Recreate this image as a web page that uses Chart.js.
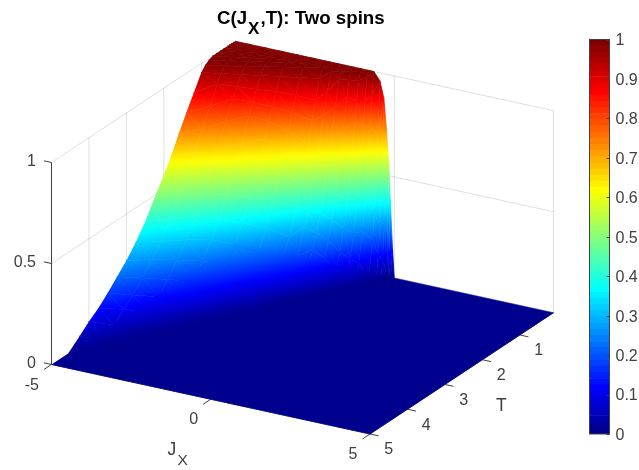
<!DOCTYPE html>
<html>
<head>
<meta charset="utf-8">
<title>C(Jx,T): Two spins</title>
<script src="https://cdn.jsdelivr.net/npm/chart.js@4"></script>
<style>
  html, body { margin: 0; padding: 0; background: #fff; }
  #wrap { position: relative; width: 639px; height: 470px; overflow: hidden; }
  canvas { position: absolute; top: 0; }
  #surface { left: 0; }
  #colorbar { left: 580px; }
</style>
</head>
<body>
<div id="wrap">
  <canvas id="surface" width="639" height="470"></canvas>
  <canvas id="colorbar" width="59" height="470"></canvas>
</div>
<script>
// values
const jxValues = [-5, -4.5, -4, -3.5, -3, -2.5, -2, -1.75, -1.5, -1.25, -1, -0.8, -0.64, -0.45, -0.33, -0.25, -0.17, -0.125, -0.055, 0, 5];
const tValues = [0.1, 0.15, 0.2, 0.25, 0.3, 0.4, 0.5, 0.6, 0.7, 0.8, 0.9, 1, 1.2, 1.4, 1.6, 1.8, 2, 2.25, 2.5, 2.75, 3, 3.25, 3.5, 3.75, 4, 4.25, 4.55, 5];
// one row per T, one column per Jx
const cValues = [
  [1, 1, 1, 1, 1, 1, 1, 1, 1, 1, 1, 1, 1, 0.96, 0.88, 0.74, 0.55, 0.385, 0.14, 0, 0],
  [1, 1, 1, 1, 1, 1, 1, 1, 1, 1, 0.996, 0.973, 0.89, 0.696, 0.48, 0.27, 0.02, 0, 0, 0, 0],
  [1, 1, 1, 1, 1, 1, 1, 1, 1, 0.992, 0.955, 0.86, 0.742, 0.498, 0.264, 0.09, 0, 0, 0, 0, 0],
  [1, 1, 1, 1, 1, 1, 1, 0.998, 0.99, 0.955, 0.86, 0.742, 0.588, 0.32, 0.12, 0, 0, 0, 0, 0, 0],
  [1, 1, 1, 1, 1, 1, 0.996, 0.986, 0.955, 0.88, 0.77, 0.617, 0.45, 0.2, 0, 0, 0, 0, 0, 0, 0],
  [1, 1, 1, 1, 1, 0.992, 0.955, 0.9, 0.83, 0.727, 0.57, 0.4, 0.245, 0.015, 0, 0, 0, 0, 0, 0, 0],
  [1, 1, 1, 0.998, 0.99, 0.955, 0.86, 0.793, 0.696, 0.57, 0.4, 0.245, 0.103, 0, 0, 0, 0, 0, 0, 0, 0],
  [1, 1, 0.996, 0.986, 0.955, 0.88, 0.77, 0.677, 0.57, 0.432, 0.27, 0.125, 0, 0, 0, 0, 0, 0, 0, 0, 0],
  [1, 0.994, 0.983, 0.955, 0.893, 0.805, 0.663, 0.57, 0.455, 0.32, 0.17, 0.024, 0, 0, 0, 0, 0, 0, 0, 0, 0],
  [0.992, 0.981, 0.955, 0.9, 0.83, 0.727, 0.57, 0.475, 0.352, 0.227, 0.09, 0, 0, 0, 0, 0, 0, 0, 0, 0, 0],
  [0.979, 0.955, 0.908, 0.847, 0.77, 0.643, 0.487, 0.377, 0.27, 0.152, 0.006, 0, 0, 0, 0, 0, 0, 0, 0, 0, 0],
  [0.955, 0.915, 0.86, 0.793, 0.696, 0.57, 0.4, 0.303, 0.2, 0.09, 0, 0, 0, 0, 0, 0, 0, 0, 0, 0, 0],
  [0.88, 0.83, 0.77, 0.677, 0.57, 0.432, 0.27, 0.183, 0.09, 0, 0, 0, 0, 0, 0, 0, 0, 0, 0, 0, 0],
  [0.805, 0.744, 0.663, 0.57, 0.455, 0.32, 0.17, 0.09, 0, 0, 0, 0, 0, 0, 0, 0, 0, 0, 0, 0, 0],
  [0.727, 0.65, 0.57, 0.475, 0.352, 0.227, 0.09, 0, 0, 0, 0, 0, 0, 0, 0, 0, 0, 0, 0, 0, 0],
  [0.643, 0.57, 0.487, 0.377, 0.27, 0.152, 0.006, 0, 0, 0, 0, 0, 0, 0, 0, 0, 0, 0, 0, 0, 0],
  [0.57, 0.498, 0.4, 0.303, 0.2, 0.09, 0, 0, 0, 0, 0, 0, 0, 0, 0, 0, 0, 0, 0, 0, 0],
  [0.487, 0.4, 0.315, 0.227, 0.125, 0.006, 0, 0, 0, 0, 0, 0, 0, 0, 0, 0, 0, 0, 0, 0, 0],
  [0.4, 0.32, 0.245, 0.157, 0.06, 0, 0, 0, 0, 0, 0, 0, 0, 0, 0, 0, 0, 0, 0, 0, 0],
  [0.33, 0.26, 0.18, 0.1, 0, 0, 0, 0, 0, 0, 0, 0, 0, 0, 0, 0, 0, 0, 0, 0, 0],
  [0.27, 0.2, 0.125, 0.04, 0, 0, 0, 0, 0, 0, 0, 0, 0, 0, 0, 0, 0, 0, 0, 0, 0],
  [0.22, 0.147, 0.078, 0, 0, 0, 0, 0, 0, 0, 0, 0, 0, 0, 0, 0, 0, 0, 0, 0, 0],
  [0.17, 0.107, 0.024, 0, 0, 0, 0, 0, 0, 0, 0, 0, 0, 0, 0, 0, 0, 0, 0, 0, 0],
  [0.125, 0.06, 0, 0, 0, 0, 0, 0, 0, 0, 0, 0, 0, 0, 0, 0, 0, 0, 0, 0, 0],
  [0.09, 0.015, 0, 0, 0, 0, 0, 0, 0, 0, 0, 0, 0, 0, 0, 0, 0, 0, 0, 0, 0],
  [0.048, 0, 0, 0, 0, 0, 0, 0, 0, 0, 0, 0, 0, 0, 0, 0, 0, 0, 0, 0, 0],
  [0, 0, 0, 0, 0, 0, 0, 0, 0, 0, 0, 0, 0, 0, 0, 0, 0, 0, 0, 0, 0],
  [0, 0, 0, 0, 0, 0, 0, 0, 0, 0, 0, 0, 0, 0, 0, 0, 0, 0, 0, 0, 0],
];
const jxTicks = [-5, 0, 5];
const tTicks = [1, 2, 3, 4, 5];
const cTicks = [0, 0.5, 1];
const tWallLines = [1, 2, 3, 4];
const colorLevels = 64;

const FONT = '"Liberation Sans", Arial, sans-serif';
const TEXT = "#404040";
const GRID = "rgba(0,0,0,0.13)";

// fixed 3d view: where (jx, t, c) lands on the flat x/y scales of the chart
function project(jx, t, c) {
  return {
    x: 51.5 + (jx + 5) * 31.85 + (5 - t) * 37.45,
    y: 364.5 + (jx + 5) * 6.95 - (5 - t) * 24.76 - 202 * c,
  };
}

function clamp01(v) {
  return Math.max(0, Math.min(1, v));
}

// matlab jet, level 0..colorLevels-1
function jet(level) {
  const x = (level + 1) / colorLevels;
  const r = clamp01(1.5 - Math.abs(4 * x - 3));
  const g = clamp01(1.5 - Math.abs(4 * x - 2));
  const b = clamp01(1.5 - Math.abs(4 * x - 1));
  return `rgb(${Math.round(r * 255)},${Math.round(g * 255)},${Math.round(b * 255)})`;
}

// colour of a C value, fractional level so it runs smooth across a triangle
function colorOf(c) {
  return jet(Math.max(0, Math.min(colorLevels - 1, c * colorLevels - 0.5)));
}

// gradient for one surface triangle
function triFill(chart, corners) {
  const cs = corners.map((q) => q.c);
  const lo = Math.min(...cs);
  const hi = Math.max(...cs);
  const mid = colorOf((lo + hi) / 2);
  if (hi - lo < 1e-4) return mid;

  const sx = chart.scales.x;
  const sy = chart.scales.y;
  if (!sx || !sy) return mid;
  const p = corners.map((q) => ({ x: sx.getPixelForValue(q.x), y: sy.getPixelForValue(q.y), c: q.c }));

  const ax = p[1].x - p[0].x, ay = p[1].y - p[0].y, av = p[1].c - p[0].c;
  const bx = p[2].x - p[0].x, by = p[2].y - p[0].y, bv = p[2].c - p[0].c;
  const det = ax * by - ay * bx;
  if (!(Math.abs(det) > 1e-6)) return mid;
  const gx = (av * by - ay * bv) / det;
  const gy = (ax * bv - av * bx) / det;
  const g2 = gx * gx + gy * gy;
  if (!(g2 > 1e-12)) return mid;
  const at = (c) => ({ x: p[0].x + (gx * (c - p[0].c)) / g2, y: p[0].y + (gy * (c - p[0].c)) / g2 });
  const a = at(lo);
  const b = at(hi);
  if (![a.x, a.y, b.x, b.y].every(Number.isFinite)) return mid;
  const grad = chart.ctx.createLinearGradient(a.x, a.y, b.x, b.y);
  grad.addColorStop(0, colorOf(lo));
  for (let k = 1; k < colorLevels; k++) {
    const c = k / colorLevels;
    if (c > lo && c < hi) grad.addColorStop((c - lo) / (hi - lo), colorOf(c));
  }
  grad.addColorStop(1, colorOf(hi));
  return grad;
}

function line3d(points, color, width) {
  return {
    data: points.map((q) => project(q[0], q[1], q[2])),
    showLine: true,
    fill: false,
    borderColor: color,
    borderWidth: width,
    pointRadius: 0,
  };
}

const J_MIN = jxValues[0];
const J_MAX = jxValues[jxValues.length - 1];
const T_MIN = tValues[0];
const T_MAX = tValues[tValues.length - 1];

// walls, axes and ticks, far to near
const backLayer = [];
[0.5, 1].forEach((c) => {
  backLayer.push(line3d([[J_MIN, T_MAX, c], [J_MIN, T_MIN, c], [J_MAX, T_MIN, c]], GRID, 1));
});
tWallLines.forEach((t) => {
  backLayer.push(line3d([[J_MIN, t, 0], [J_MIN, t, 1]], GRID, 1));
});
backLayer.push(line3d([[0, T_MIN, 0], [0, T_MIN, 1]], GRID, 1));
backLayer.push(line3d([[J_MAX, T_MIN, 0], [J_MAX, T_MIN, 1]], GRID, 1));

backLayer.push(line3d([[J_MIN, T_MAX, 0], [J_MIN, T_MAX, 1]], TEXT, 1));
backLayer.push(line3d([[J_MIN, T_MAX, 0], [J_MAX, T_MAX, 0], [J_MAX, T_MIN, 0]], TEXT, 1));
cTicks.forEach((c) => {
  backLayer.push(line3d([[J_MIN - 0.24, T_MAX, c], [J_MIN, T_MAX, c]], TEXT, 1));
});
jxTicks.forEach((j) => {
  backLayer.push(line3d([[j, T_MAX + 0.2, 0], [j, T_MAX, 0]], TEXT, 1));
});
tTicks.forEach((t) => {
  backLayer.push(line3d([[J_MAX, t, 0], [J_MAX + 0.27, t, 0]], TEXT, 1));
});

// flat part of the surface, so no seam shows white between the cells on it
const floorLayer = [{
  data: [[J_MIN, T_MIN], [J_MAX, T_MIN], [J_MAX, T_MAX], [J_MIN, T_MAX]].map((q) => project(q[0], q[1], 0)),
  showLine: true,
  fill: "shape",
  backgroundColor: jet(0),
  borderColor: jet(0),
  borderWidth: 0.5,
  pointRadius: 0,
}];

// every table cell split into two triangles along its iso-direction
const cellLayer = [];
for (let i = 0; i < tValues.length - 1; i++) {
  for (let j = 0; j < jxValues.length - 1; j++) {
    const corners = [[i, j], [i, j + 1], [i + 1, j + 1], [i + 1, j]].map(([a, b]) => {
      const q = project(jxValues[b], tValues[a], cValues[a][b]);
      return { x: q.x, y: q.y, c: cValues[a][b] };
    });
    [[corners[0], corners[1], corners[3]], [corners[1], corners[2], corners[3]]].forEach((tri) => {
      if (tri.every((q) => q.c === 0)) return;
      cellLayer.push({
        data: tri.map((q) => ({ x: q.x, y: q.y })),
        showLine: true,
        fill: "shape",
        backgroundColor: (ctx) => triFill(ctx.chart, tri),
        borderColor: (ctx) => triFill(ctx.chart, tri),
        borderWidth: 0.8,
        pointRadius: 0,
      });
    });
  }
}

// text at 3d anchors, with a pixel offset from the tick
const tickText = [];
cTicks.forEach((c) => {
  const q = project(J_MIN, T_MAX, c);
  tickText.push({ text: String(c), x: q.x - 15.5, y: q.y - 1, align: "right" });
});
jxTicks.forEach((j) => {
  const q = project(j, T_MAX, 0);
  tickText.push({ text: String(j), x: q.x - 12.5, y: q.y + 20.8, align: "right" });
});
tTicks.forEach((t) => {
  const q = project(J_MAX, t, 0);
  tickText.push({ text: String(t), x: q.x + 18.8, y: q.y + 16, align: "center" });
});

const labelsPlugin = {
  id: "labels3d",
  afterDraw(chart) {
    const ctx = chart.ctx;
    ctx.save();
    ctx.fillStyle = TEXT;
    ctx.textBaseline = "middle";
    ctx.font = `16px ${FONT}`;
    tickText.forEach((l) => {
      ctx.textAlign = l.align;
      ctx.fillText(l.text, l.x, l.y);
    });

    // axis names
    ctx.font = `17.5px ${FONT}`;
    ctx.textAlign = "center";
    ctx.fillText("T", 501.3, 406);
    ctx.textAlign = "left";
    ctx.fillText("J", 167.5, 450.5);
    ctx.font = `15.5px ${FONT}`;
    ctx.fillText("X", 177.5, 461);

    // title with its subscript
    ctx.fillStyle = "#000";
    ctx.textAlign = "left";
    let x = 217;
    const part = (s, y, size, gap) => {
      ctx.font = `bold ${size}px ${FONT}`;
      ctx.fillText(s, x, y);
      x += ctx.measureText(s).width + gap;
    };
    part("C(J", 18.5, 18.7, 1);
    part("X", 29, 17, 1);
    part(",T): Two spins", 18.5, 18.7, 0);
    ctx.restore();
  },
};

new Chart(document.getElementById("surface"), {
  type: "scatter",
  data: { datasets: [...cellLayer.slice().reverse(), ...floorLayer, ...backLayer.slice().reverse()] },
  options: {
    responsive: false,
    animation: false,
    events: [],
    layout: { padding: 0 },
    plugins: { legend: { display: false }, tooltip: { enabled: false }, title: { display: false } },
    elements: { line: { tension: 0 } },
    scales: {
      x: { type: "linear", min: 0, max: 639, display: false },
      y: { type: "linear", min: 0, max: 470, reverse: true, display: false },
    },
  },
  plugins: [labelsPlugin],
});

// colorbar: one stacked segment per colormap level
const levelIndex = Array.from({ length: colorLevels }, (_, k) => k);

const barFrame = {
  id: "barFrame",
  afterDatasetsDraw(chart) {
    const { ctx, chartArea: a, scales } = chart;
    ctx.save();
    ctx.strokeStyle = TEXT;
    ctx.lineWidth = 1;
    ctx.strokeRect(a.left, a.top, a.right - a.left, a.bottom - a.top);
    scales.y.ticks.forEach((t) => {
      const y = Math.round(scales.y.getPixelForValue(t.value)) + 0.5;
      ctx.beginPath();
      ctx.moveTo(a.right, y);
      ctx.lineTo(a.right - 3, y);
      ctx.stroke();
    });
    ctx.restore();
  },
};

new Chart(document.getElementById("colorbar"), {
  type: "bar",
  data: {
    labels: [""],
    datasets: levelIndex.map((k) => ({
      data: [1 / colorLevels],
      backgroundColor: jet(k),
      borderWidth: 0,
      barPercentage: 1,
      categoryPercentage: 1,
    })),
  },
  options: {
    responsive: false,
    animation: false,
    events: [],
    layout: { padding: { left: 9.5, right: 0, top: 39.5, bottom: 36 } },
    plugins: { legend: { display: false }, tooltip: { enabled: false } },
    scales: {
      x: { stacked: true, display: false },
      y: {
        stacked: true,
        position: "right",
        min: 0,
        max: 1,
        afterFit: (s) => { s.width = 29.5; },
        grid: { display: false, drawTicks: false },
        border: { display: false },
        ticks: {
          stepSize: 0.1,
          padding: 6,
          labelOffset: 1.5,
          color: TEXT,
          font: { family: FONT, size: 16 },
          callback: (v) => String(+v.toFixed(1)),
        },
      },
    },
  },
  plugins: [barFrame],
});
</script>
</body>
</html>
